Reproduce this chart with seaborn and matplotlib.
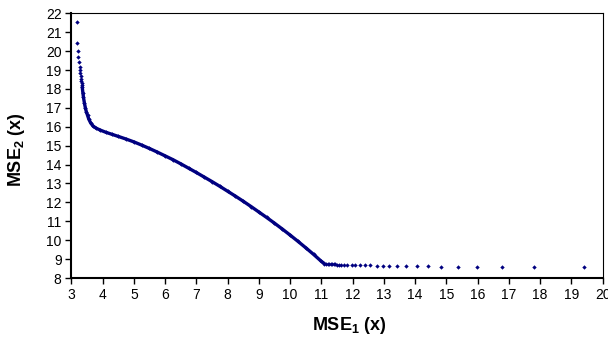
"""Pareto front of MSE_1 vs MSE_2, Excel-style scatter."""

import matplotlib
matplotlib.use("Agg")
import matplotlib.pyplot as plt
import seaborn as sns
import pandas as pd

# Steep, sparse section at the top left
x_top = [3.19, 3.19, 3.20, 3.23, 3.25, 3.27, 3.28, 3.29, 3.30, 3.31, 3.32, 3.33, 3.34]
y_top = [21.55, 20.45, 19.98, 19.67, 19.40, 19.15, 19.00, 18.85, 18.70, 18.55, 18.42, 18.30, 18.20]

# Dense part of the front
x_mid = [3.35, 3.37, 3.39, 3.42, 3.45, 3.48, 3.52, 3.56, 3.62, 3.70, 3.80, 3.93,
         4.10, 4.30, 4.50, 4.75, 5.00, 5.25, 5.50, 5.75, 6.00, 6.25, 6.50, 6.75,
         7.00, 7.25, 7.50, 7.75, 8.00, 8.25, 8.50, 8.75, 9.00, 9.25, 9.50, 9.75,
         10.00, 10.25, 10.50, 10.75, 11.00, 11.10]
y_mid = [18.10, 17.80, 17.55, 17.25, 17.00, 16.80, 16.60, 16.40, 16.20, 16.03, 15.92, 15.82,
         15.71, 15.60, 15.49, 15.35, 15.20, 15.03, 14.85, 14.66, 14.46, 14.26, 14.04, 13.81,
         13.58, 13.34, 13.10, 12.85, 12.59, 12.33, 12.06, 11.78, 11.49, 11.20, 10.90, 10.59,
         10.27, 9.94, 9.60, 9.25, 8.88, 8.76]

# Flat tail
x_tail = [11.15, 11.20, 11.25, 11.30, 11.35, 11.40, 11.45, 11.50, 11.57, 11.64, 11.71,
          11.82, 11.97, 12.08, 12.24, 12.40, 12.56, 12.77, 12.96, 13.17, 13.43, 13.71,
          14.05, 14.42, 14.83, 15.36, 15.98, 16.77, 17.81, 19.40]
y_tail = [8.73, 8.72, 8.72, 8.72, 8.72, 8.72, 8.72, 8.71, 8.71, 8.70, 8.70,
          8.69, 8.68, 8.68, 8.67, 8.67, 8.67, 8.66, 8.66, 8.66, 8.65, 8.65,
          8.65, 8.61, 8.60, 8.60, 8.60, 8.60, 8.60, 8.60]

x_ticks = list(range(3, 21))
y_ticks = list(range(8, 23))

NAVY = "#000080"

sns.set_theme(style="ticks")
plt.rcParams["font.family"] = ["Liberation Sans", "DejaVu Sans"]
plt.rcParams["mathtext.fontset"] = "custom"
plt.rcParams["mathtext.rm"] = "Liberation Sans"
plt.rcParams["mathtext.bf"] = "Liberation Sans:bold"

df_mid = pd.DataFrame({"x": x_mid, "y": y_mid})
df_all = pd.DataFrame({"x": x_top + x_mid + x_tail, "y": y_top + y_mid + y_tail})

fig = plt.figure(figsize=(6.08, 3.40), dpi=100)
ax = fig.add_axes([71.3 / 608, 1 - 278 / 340, 531.4 / 608, 264.7 / 340])

# dense band drawn as a thick line, all points as small diamonds on top
sns.lineplot(data=df_mid, x="x", y="y", sort=False, color=NAVY, linewidth=2.4, ax=ax)
sns.scatterplot(data=df_all, x="x", y="y", marker="D", s=5, color=NAVY,
                linewidth=0, ax=ax)

ax.set_xlim(3, 20)
ax.set_ylim(8, 22)
ax.set_xticks(x_ticks)
ax.set_yticks(y_ticks)
ax.tick_params(axis="both", labelsize=10, length=4, width=1, color="black",
               labelcolor="black", pad=3, direction="out")

for side in ["left", "bottom"]:
    ax.spines[side].set_linewidth(1.5)
for side in ["top", "right"]:
    ax.spines[side].set_linewidth(0.8)
for sp in ax.spines.values():
    sp.set_color("black")
    sp.set_visible(True)

ax.set_xlabel(r"MSE$_{\mathbf{1}}$ (x)", fontsize=13, fontweight="bold", color="black")
ax.set_ylabel(r"MSE$_{\mathbf{2}}$ (x)", fontsize=13, fontweight="bold", color="black")
ax.xaxis.set_label_coords(0.524, -0.14)
ax.yaxis.set_label_coords(-0.084, 0.484)

fig.savefig("out.png", dpi=100)
plt.close(fig)
